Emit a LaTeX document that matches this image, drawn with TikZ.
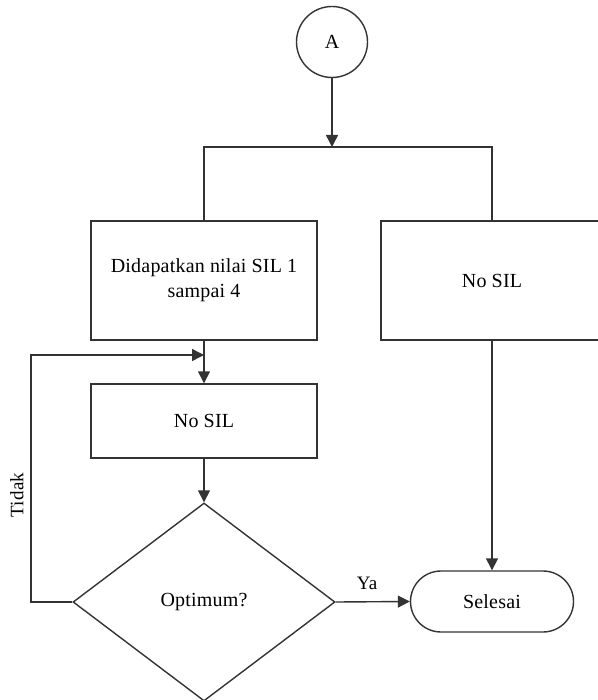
\documentclass[tikz,border=0pt]{standalone}
\usepackage{fontspec}
\setmainfont[LetterSpace=1]{Liberation Serif}
\usetikzlibrary{arrows.meta,shapes.geometric,shapes.misc}
\tikzset{
  ln/.style={line width=1.4pt, draw=black!80},
  arr/.style={ln, -{Triangle[length=12pt,width=12pt]}},
  box/.style={ln, rectangle, inner sep=0pt, align=center, fill=white},
  txt/.style={font=\fontsize{20}{25}\selectfont, text=black}
}
\begin{document}
\begin{tikzpicture}[x=1pt,y=-1pt]
\useasboundingbox (0,0) rectangle (597,700);
\node[ln, circle, minimum size=71pt, inner sep=0pt, txt] (A) at (332,42) {A};
\coordinate (j) at (332,147);
\node[box, txt, minimum width=226pt, minimum height=119pt] (b1) at (204,280.5) {Didapatkan nilai SIL 1\\sampai 4};
\node[box, txt, minimum width=222pt, minimum height=119pt] (b2) at (492,280.5) {No SIL};
\node[box, txt, minimum width=226pt, minimum height=74pt] (b3) at (204,421) {No SIL};
\node[ln, diamond, inner sep=0pt, minimum width=262pt, minimum height=198pt, txt] (d) at (204,602) {Optimum?};
\node[ln, rounded rectangle, inner sep=0pt, minimum width=163pt, minimum height=61pt, txt] (s) at (492,601.5) {Selesai};
\coordinate (fbl) at (31,355);
\coordinate (fbr) at (204,355);
\coordinate (ya) at (367,583);
\coordinate (td) at (17,495);

\draw[arr] (A.south) -- (j);
\draw[ln] (b1.north) -- (b1.north |- j) -- (b2.north |- j) -- (b2.north);
\draw[arr] (b1.south) -- (b3.north);
\draw[arr] (b3.south) -- (d.north);
\draw[arr] (d.west) -| (fbl) -- (fbr);
\draw[arr] (d.east) -- (s.west);
\draw[arr] (b2.south) -- (s.north);
\node[txt, font=\fontsize{19}{20}\selectfont, rotate=90] (tidak) at (td) {Tidak};
\node[txt, font=\fontsize{19}{20}\selectfont] (yalbl) at (ya) {Ya};
\end{tikzpicture}
\end{document}
